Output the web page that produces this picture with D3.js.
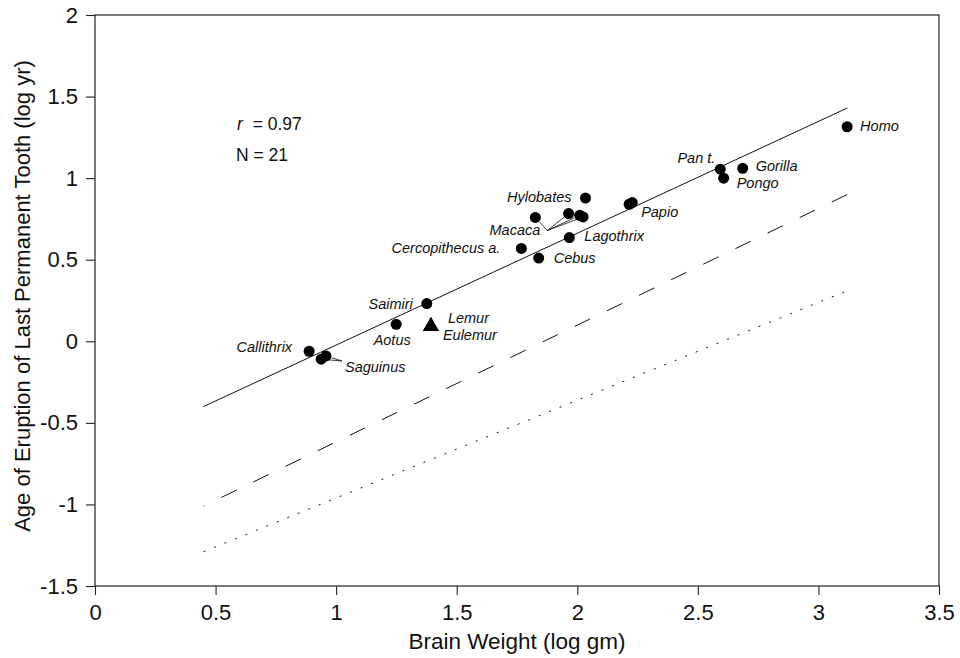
<!DOCTYPE html>
<html>
<head>
<meta charset="utf-8">
<script src="https://cdn.jsdelivr.net/npm/d3@7"></script>
<style>
  body { margin: 0; background: #fff; }
  svg { display: block; font-family: "Liberation Sans", Arial, sans-serif; }
</style>
</head>
<body>
<div id="chart"></div>
<script>
/********** Data **********/
var species = ["Callithrix", "Saguinus", "Saguinus", "Aotus", "Saimiri", "Lemur", "Eulemur",
  "Cercopithecus a.", "Cebus", "Macaca", "Macaca", "Macaca", "Macaca", "Lagothrix",
  "Hylobates", "Papio", "Papio", "Pan t.", "Pongo", "Gorilla", "Homo"]
var brainWeight = [0.888, 0.938, 0.958, 1.249, 1.376, 1.393, 1.393,
  1.768, 1.840, 1.826, 1.964, 2.010, 2.024, 1.967,
  2.034, 2.215, 2.228, 2.593, 2.607, 2.686, 3.119]
var eruptionAge = [-0.061, -0.110, -0.090, 0.104, 0.231, 0.092, 0.092,
  0.569, 0.510, 0.759, 0.783, 0.772, 0.762, 0.636,
  0.878, 0.840, 0.850, 1.055, 1.000, 1.060, 1.315]
var marker = ["circle", "circle", "circle", "circle", "circle", "triangle", "triangle",
  "circle", "circle", "circle", "circle", "circle", "circle", "circle",
  "circle", "circle", "circle", "circle", "circle", "circle", "circle"]

// fitted lines (end points)
var lineX = [0.45, 3.12]
var solidY = [-0.40, 1.43]
var dashedY = [-1.01, 0.90]
var dottedY = [-1.29, 0.31]

var xTicks = [0, 0.5, 1, 1.5, 2, 2.5, 3, 3.5]
var xTickLabels = ["0", "0.5", "1", "1.5", "2", "2.5", "3", "3.5"]
var yTicks = [-1.5, -1, -0.5, 0, 0.5, 1, 1.5, 2]
var yTickLabels = ["-1.5", "-1", "-0.5", "0", "0.5", "1", "1.5", "2"]

/********** Layout **********/
// label placement: index of point, anchor, pixel offsets of baseline
var labelLayout = [
  {i: 0, text: "Callithrix", anchor: "end", dx: -17, dy: 1},
  {i: 2, text: "Saguinus", anchor: "start", dx: 19, dy: 16},
  {i: 3, text: "Aotus", anchor: "middle", dx: -4, dy: 21},
  {i: 4, text: "Saimiri", anchor: "end", dx: -14, dy: 5},
  {i: 5, text: "Lemur", anchor: "start", dx: 17, dy: -3},
  {i: 6, text: "Eulemur", anchor: "start", dx: 12, dy: 14},
  {i: 7, text: "Cercopithecus a.", anchor: "end", dx: -21, dy: 5},
  {i: 8, text: "Cebus", anchor: "start", dx: 15, dy: 5},
  {i: 9, text: "Macaca", anchor: "end", dx: 5, dy: 18},
  {i: 13, text: "Lagothrix", anchor: "start", dx: 15, dy: 3},
  {i: 14, text: "Hylobates", anchor: "end", dx: -14, dy: 4},
  {i: 15, text: "Papio", anchor: "start", dx: 12, dy: 13},
  {i: 17, text: "Pan t.", anchor: "end", dx: -5, dy: -6},
  {i: 18, text: "Pongo", anchor: "start", dx: 13, dy: 10},
  {i: 19, text: "Gorilla", anchor: "start", dx: 13, dy: 3},
  {i: 20, text: "Homo", anchor: "start", dx: 13, dy: 4}
]
// leader lines: apex offset from the first listed point, then the points it points to
var leaders = [
  {from: 9, dx: 12, dy: 13, to: [9, 10, 11, 12]},
  {from: 2, dx: 16, dy: 5, to: [1, 2]}
]

var W = 960, H = 658
var x = d3.scaleLinear().domain([0, 3.5]).range([95, 939])
var y = d3.scaleLinear().domain([-1.5, 2]).range([586, 15])

var svg = d3.select("#chart").append("svg")
  .attr("width", W)
  .attr("height", H)

// frame
svg.append("rect")
  .attr("x", x(0)).attr("y", y(2))
  .attr("width", x(3.5) - x(0)).attr("height", y(-1.5) - y(2))
  .attr("fill", "none").attr("stroke", "#222").attr("stroke-width", 1.2)

// axes
var xAxis = svg.append("g")
  .attr("transform", "translate(0," + y(-1.5) + ")")
  .call(d3.axisBottom(x).tickValues(xTicks).tickSize(9).tickPadding(9)
    .tickFormat(function(d, i) { return xTickLabels[i] }))
var yAxis = svg.append("g")
  .attr("transform", "translate(" + x(0) + ",0)")
  .call(d3.axisLeft(y).tickValues(yTicks).tickSize(9).tickPadding(8)
    .tickFormat(function(d, i) { return yTickLabels[i] }))
svg.selectAll(".domain").remove()
svg.selectAll(".tick line").attr("stroke", "#222").attr("stroke-width", 1.1)
svg.selectAll(".tick text").attr("fill", "#111")
xAxis.attr("font-size", 22).attr("font-family", "Liberation Sans, Arial, sans-serif")
yAxis.attr("font-size", 22).attr("font-family", "Liberation Sans, Arial, sans-serif")

// axis titles
svg.append("text")
  .attr("x", (x(0) + x(3.5)) / 2)
  .attr("y", 649)
  .attr("text-anchor", "middle")
  .style("font-size", "22.5px")
  .attr("fill", "#111")
  .text("Brain Weight (log gm)")
svg.append("text")
  .attr("transform", "translate(30," + 296 + ") rotate(-90)")
  .attr("text-anchor", "middle")
  .style("font-size", "22px")
  .attr("fill", "#111")
  .text("Age of Eruption of Last Permanent Tooth (log yr)")

// stats
var stats = svg.append("text")
  .attr("x", 237).attr("y", 130)
  .style("font-size", "17.5px").attr("fill", "#111")
stats.append("tspan").style("font-style", "italic").text("r")
stats.append("tspan").attr("dx", 5).text(" = 0.97")
svg.append("text")
  .attr("x", 236).attr("y", 161)
  .style("font-size", "17.5px").attr("fill", "#111")
  .text("N = 21")

// fitted lines
var fit = d3.line()
  .x(function(d, i) { return x(lineX[i]) })
  .y(function(d) { return y(d) })
svg.append("path").datum(solidY)
  .attr("fill", "none").attr("stroke", "#111").attr("stroke-width", 1)
  .attr("d", fit)
svg.append("path").datum(dashedY)
  .attr("fill", "none").attr("stroke", "#111").attr("stroke-width", 1)
  .attr("stroke-dasharray", "17,18.7")
  .attr("stroke-dashoffset", 16)
  .attr("d", fit)
svg.append("path").datum(dottedY)
  .attr("fill", "none").attr("stroke", "#111").attr("stroke-width", 1)
  .attr("stroke-dasharray", "2,9.3")
  .attr("d", fit)

// leader lines
leaders.forEach(function(l) {
  var ax = x(brainWeight[l.from]) + l.dx, ay = y(eruptionAge[l.from]) + l.dy
  l.to.forEach(function(j) {
    var px = x(brainWeight[j]), py = y(eruptionAge[j])
    var len = Math.hypot(px - ax, py - ay)
    var k = (len - 6) / len
    svg.append("line")
      .attr("x1", ax).attr("y1", ay)
      .attr("x2", ax + (px - ax) * k).attr("y2", ay + (py - ay) * k)
      .attr("stroke", "#222").attr("stroke-width", 0.9)
  })
})

// points
var pts = d3.range(species.length)
svg.selectAll("circle.pt")
  .data(pts.filter(function(i) { return marker[i] === "circle" }))
  .enter().append("circle")
  .attr("class", "pt")
  .attr("cx", function(i) { return x(brainWeight[i]) })
  .attr("cy", function(i) { return y(eruptionAge[i]) })
  .attr("r", 5.5)
  .attr("fill", "#000")
svg.selectAll("path.tri")
  .data(pts.filter(function(i) { return marker[i] === "triangle" }))
  .enter().append("path")
  .attr("class", "tri")
  .attr("transform", function(i) { return "translate(" + x(brainWeight[i]) + "," + y(eruptionAge[i]) + ")" })
  .attr("d", d3.symbol().type(d3.symbolTriangle).size(110))
  .attr("fill", "#000")

// species labels
svg.selectAll("text.lab")
  .data(labelLayout)
  .enter().append("text")
  .attr("class", "lab")
  .attr("x", function(d) { return x(brainWeight[d.i]) + d.dx })
  .attr("y", function(d) { return y(eruptionAge[d.i]) + d.dy })
  .attr("text-anchor", function(d) { return d.anchor })
  .style("font-size", "14.5px")
  .style("font-style", "italic")
  .attr("fill", "#111")
  .text(function(d) { return d.text })
</script>
</body>
</html>
